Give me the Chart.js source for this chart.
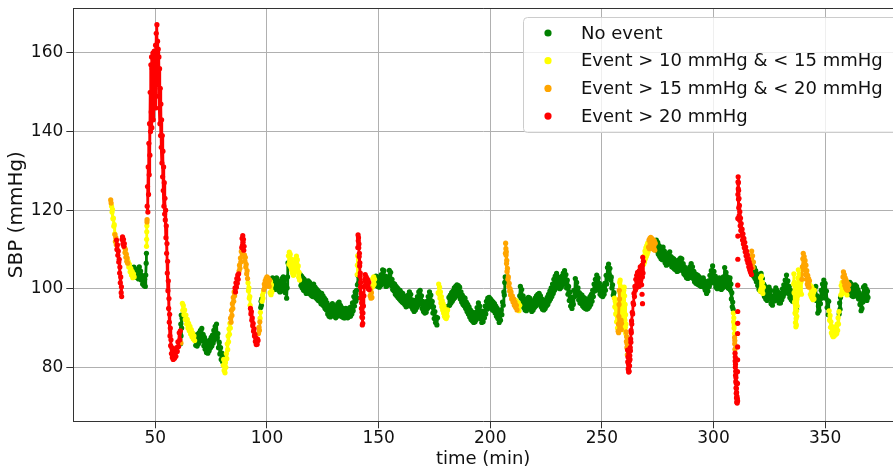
<!DOCTYPE html>
<html>
<head>
<meta charset="utf-8">
<script src="https://cdn.jsdelivr.net/npm/chart.js@4.4.0/dist/chart.umd.min.js"></script>
<style>
  html, body { margin: 0; padding: 0; background: #ffffff; overflow: hidden; }
  canvas { display: block; }
</style>
</head>
<body>
<canvas id="sbp" width="893" height="471"></canvas>
<script>
// Systolic blood pressure over the session, split by event class.
// Each class is a list of contiguous runs of [time (min), SBP (mmHg)] samples.

const seriesLabels = ['No event', 'Event > 10 mmHg & < 15 mmHg', 'Event > 15 mmHg & < 20 mmHg', 'Event > 20 mmHg'];
const xTicks = [50, 100, 150, 200, 250, 300, 350];
const yTicks = [80, 100, 120, 140, 160];

const noEvent = [
  [[40.4,105.5],[40.7,103.4],[41.0,105.0],[41.3,103.0],[41.6,104.6],[41.9,102.8],[42.2,104.2],[42.5,102.5],[42.8,105.6],[43.1,103.2],[43.4,104.5],[43.7,102.2],[44.0,103.4],[44.3,101.2],[44.6,102.8],[44.9,100.8],[45.2,102.4],[45.5,100.6],[45.7,103.5],[45.9,106.5],[46.0,109.0]],
  [[61.3,86.0],[61.4,91.0],[61.5,88.0],[61.6,93.3],[61.8,90.0],[62.0,92.5]],
  [[67.8,88.2],[68.1,85.6],[68.4,87.9],[68.7,85.4],[69.0,88.4],[69.3,86.0],[69.6,88.8],[69.9,86.6],[70.2,89.4],[70.5,87.2],[70.8,89.9],[71.1,86.8],[71.4,88.4],[71.7,85.5],[72.0,87.6],[72.3,84.6],[72.6,86.8],[72.9,83.8],[73.2,86.2],[73.5,83.6],[73.8,86.0],[74.1,84.2],[74.4,86.9],[74.7,85.0],[75.0,87.6],[75.3,85.4],[75.6,88.2],[75.9,86.2],[76.2,89.4],[76.5,87.0],[76.8,90.4],[77.1,88.0],[77.4,91.0],[77.7,87.6],[78.0,88.6],[78.3,85.0],[78.6,86.4],[78.9,83.4],[79.2,85.0],[79.5,82.0],[79.8,83.6],[80.1,81.4],[80.3,82.6]],
  [[97.2,95.2],[97.35,96.8],[97.5,95.8],[97.65,97.4]],
  [[102.5,102.8],[102.8,100.2],[103.1,102.6],[103.4,99.8],[103.7,102.2],[104.0,100.0],[104.3,102.8],[104.6,100.4],[104.9,102.0],[105.2,99.6],[105.5,101.6],[105.8,99.2],[106.1,101.4],[106.4,99.4],[106.7,102.6],[107.0,100.0],[107.3,103.0],[107.6,100.6],[107.9,102.2],[108.2,99.0],[108.5,101.0],[108.8,97.6],[109.0,100.2],[109.2,103.0],[109.4,106.6]],
  [[114.9,103.6],[115.2,100.8],[115.5,103.2],[115.8,100.2],[116.1,102.8],[116.4,99.6],[116.7,102.4],[117.0,99.4],[117.3,101.8],[117.6,98.8],[117.9,101.2],[118.2,99.0],[118.5,102.0],[118.8,99.4],[119.1,101.6],[119.4,98.6],[119.7,100.8],[120.0,98.2],[120.3,100.6],[120.6,98.0],[120.9,101.2],[121.2,98.6],[121.5,100.4],[121.8,97.8],[122.1,100.0],[122.4,97.4],[122.7,99.6],[123.0,97.0],[123.3,99.2],[123.6,96.8],[123.9,98.6],[124.2,96.2],[124.5,98.8],[124.8,96.0],[125.1,98.2],[125.4,95.6],[125.7,97.6],[126.0,95.0],[126.3,97.2],[126.6,94.6],[126.9,96.4],[127.2,93.6],[127.5,95.8],[127.8,93.0],[128.1,95.4],[128.4,92.8],[128.7,95.6],[129.0,93.2],[129.3,96.2],[129.6,93.4],[129.9,95.8],[130.2,93.0],[130.5,95.2],[130.8,92.6],[131.1,95.0],[131.4,93.0],[131.7,96.2],[132.0,93.6],[132.3,96.6],[132.6,93.4],[132.9,95.8],[133.2,93.0],[133.5,95.2],[133.8,92.8],[134.1,94.6],[134.4,92.6],[134.7,94.8],[135.0,92.6],[135.3,95.0],[135.6,92.8],[135.9,94.6],[136.2,92.6],[136.5,94.8],[136.8,93.0],[137.1,95.2],[137.4,93.0],[137.7,95.4],[138.0,93.6],[138.3,96.4],[138.6,94.4],[138.9,98.0],[139.2,95.6],[139.5,99.2],[139.8,96.8],[140.1,99.6],[140.3,97.6]],
  [[140.5,101.0],[140.7,103.4],[140.9,101.4]],
  [[148.5,101.2],[148.8,103.2],[149.1,100.8],[149.4,103.0],[149.7,100.6],[150.0,102.6],[150.3,100.4],[150.6,102.8],[150.9,100.8],[151.2,103.6],[151.5,101.2],[151.8,104.8],[152.1,102.0],[152.4,104.6],[152.7,101.4],[153.0,103.2],[153.3,100.6],[153.6,102.6],[153.9,100.8],[154.2,103.0],[154.5,101.6],[154.8,104.7],[155.1,102.2],[155.4,104.2],[155.7,100.8],[156.0,102.4],[156.3,99.8],[156.6,101.4],[156.9,99.4],[157.2,101.2],[157.5,98.6],[157.8,100.6],[158.1,98.2],[158.4,100.2],[158.7,97.8],[159.0,99.8],[159.3,97.4],[159.6,99.6],[159.9,97.0],[160.2,99.0],[160.5,96.6],[160.8,98.8],[161.1,96.4],[161.4,98.2],[161.7,96.0],[162.0,97.8],[162.3,95.4],[162.6,97.6],[162.9,95.6],[163.2,98.4],[163.5,96.4],[163.8,99.2],[164.1,96.8],[164.4,98.6],[164.7,95.4],[165.0,97.2],[165.3,94.8],[165.6,96.6],[165.9,94.2],[166.2,96.4],[166.5,94.6],[166.8,97.2],[167.1,95.2],[167.4,98.0],[167.7,95.8],[168.0,99.2],[168.3,96.6],[168.6,99.6],[168.9,96.2],[169.2,98.2],[169.5,95.0],[169.8,96.8],[170.1,94.2],[170.4,96.2],[170.7,93.8],[171.0,95.6],[171.3,94.0],[171.6,96.8],[171.9,95.0],[172.2,98.0],[172.5,96.0],[172.8,99.2],[173.1,96.6],[173.4,98.4],[173.7,95.4],[174.0,96.8],[174.3,93.8],[174.6,95.4],[174.9,92.4],[175.2,94.2],[175.5,91.4],[175.8,92.8],[176.1,90.8],[176.4,92.6]],
  [[181.2,95.6],[181.5,97.8],[181.8,95.8],[182.1,98.4],[182.4,96.4],[182.7,99.0],[183.0,96.8],[183.3,99.4],[183.6,97.4],[183.9,100.2],[184.2,97.8],[184.5,100.6],[184.8,98.2],[185.1,101.0],[185.4,98.4],[185.7,100.8],[186.0,98.2],[186.3,100.4],[186.6,97.4],[186.9,99.2],[187.2,96.6],[187.5,98.4],[187.8,96.0],[188.1,97.8],[188.4,95.6],[188.7,97.6],[189.0,95.0],[189.3,96.6],[189.6,94.2],[189.9,96.0],[190.2,93.6],[190.5,95.4],[190.8,92.8],[191.1,94.6],[191.4,92.2],[191.7,94.2],[192.0,91.8],[192.3,93.8],[192.6,91.4],[192.9,93.4],[193.2,91.6],[193.5,94.0],[193.8,92.2],[194.1,95.2],[194.4,93.0],[194.7,96.4],[195.0,93.6],[195.3,95.6],[195.6,92.4],[195.9,94.4],[196.2,91.4],[196.5,93.2],[196.8,91.6],[197.1,94.2],[197.4,92.6],[197.7,95.6],[198.0,93.6],[198.3,96.8],[198.6,94.8],[198.9,97.6],[199.2,95.4],[199.5,97.8],[199.8,95.6],[200.1,97.4],[200.4,95.0],[200.7,97.0],[201.0,94.6],[201.3,96.6],[201.6,94.4],[201.9,96.2],[202.2,93.8],[202.5,95.6],[202.8,93.0],[203.1,95.0],[203.4,92.4],[203.7,94.2],[204.0,91.4],[204.3,93.6],[204.6,92.0],[204.9,94.6],[205.2,93.4],[205.5,96.6],[205.8,95.8],[206.1,99.2],[206.3,98.4],[206.5,101.6],[206.7,103.0]],
  [[213.2,98.2],[213.5,100.6],[213.8,97.6],[214.1,99.8],[214.4,96.6],[214.7,98.2],[215.0,95.2],[215.3,97.4],[215.6,94.6],[215.9,96.8],[216.2,94.4],[216.5,97.2],[216.8,95.0],[217.1,97.8],[217.4,95.4],[217.7,97.6],[218.0,94.8],[218.3,96.6],[218.6,94.2],[218.9,96.4],[219.2,94.6],[219.5,97.0],[219.8,95.2],[220.1,97.6],[220.4,95.6],[220.7,98.2],[221.0,96.0],[221.3,98.6],[221.6,96.4],[221.9,98.8],[222.2,96.2],[222.5,98.2],[222.8,95.4],[223.1,97.4],[223.4,94.8],[223.7,96.8],[224.0,94.6],[224.3,96.6],[224.6,95.0],[224.9,97.2],[225.2,95.6],[225.5,97.8],[225.8,96.0],[226.1,98.6],[226.4,96.8],[226.7,99.4],[227.0,97.4],[227.3,100.2],[227.6,98.0],[227.9,101.2],[228.2,98.8],[228.5,102.4],[228.8,99.6],[229.1,103.2],[229.4,100.6],[229.7,103.9],[230.0,100.8],[230.3,103.0],[230.6,100.2],[230.9,102.4],[231.2,100.0],[231.5,102.6],[231.8,100.4],[232.1,103.2],[232.4,101.0],[232.7,104.0],[233.0,101.4],[233.3,104.6],[233.6,101.2],[233.9,103.6],[234.2,100.2],[234.5,102.2],[234.8,98.6],[235.1,100.6],[235.4,97.0],[235.7,99.2],[236.0,95.6],[236.3,97.8],[236.6,95.0],[236.9,97.6],[237.2,96.0],[237.5,99.6],[237.8,98.0],[238.1,102.6],[238.4,99.6],[238.7,101.6],[239.0,98.4],[239.3,100.2],[239.6,97.2],[239.9,99.0],[240.2,96.4],[240.5,98.6],[240.8,96.2],[241.1,98.4],[241.4,95.6],[241.7,97.8],[242.0,95.2],[242.3,97.6],[242.6,95.0],[242.9,97.2],[243.2,94.8],[243.5,96.8],[243.8,95.0],[244.1,97.4],[244.4,95.4],[244.7,98.0],[245.0,96.0],[245.3,98.6],[245.6,96.8],[245.9,99.6],[246.2,98.0],[246.5,101.2],[246.8,99.4],[247.1,102.4],[247.4,100.2],[247.7,103.5],[248.0,100.6],[248.3,102.8],[248.6,99.6],[248.9,101.4],[249.2,98.6],[249.5,100.4],[249.8,98.2],[250.1,100.2],[250.4,98.0],[250.7,100.6],[251.0,98.6],[251.3,101.4],[251.6,99.6],[251.9,103.4],[252.2,101.2],[252.5,105.4],[252.8,103.0],[253.0,106.3],[253.3,103.6],[253.6,105.2],[253.9,102.2],[254.2,103.0],[254.5,100.2],[254.8,101.0],[255.1,98.4],[255.4,99.0]],
  [[274.1,110.4],[274.4,112.4],[274.7,109.6],[275.0,111.8],[275.3,108.8],[275.6,111.0],[275.9,108.2],[276.2,110.6],[276.5,107.6],[276.8,109.8],[277.1,107.4],[277.4,110.6],[277.7,107.8],[278.0,109.6],[278.3,106.6],[278.6,108.6],[278.9,106.0],[279.2,108.4],[279.5,106.2],[279.8,109.0],[280.1,106.8],[280.4,109.4],[280.7,106.4],[281.0,108.2],[281.3,105.6],[281.6,107.8],[281.9,105.4],[282.2,107.6],[282.5,105.0],[282.8,107.2],[283.1,104.8],[283.4,106.8],[283.7,104.4],[284.0,106.6],[284.3,104.6],[284.6,107.4],[284.9,105.2],[285.2,107.8],[285.5,105.0],[285.8,107.6],[286.1,104.6],[286.4,106.4],[286.7,103.8],[287.0,105.6],[287.3,103.4],[287.6,105.2],[287.9,102.8],[288.2,104.8],[288.5,102.6],[288.8,104.6],[289.1,102.8],[289.4,105.6],[289.7,103.4],[290.0,106.4],[290.3,103.6],[290.6,105.6],[290.9,102.6],[291.2,104.4],[291.5,101.8],[291.8,103.8],[292.1,101.4],[292.4,103.6],[292.7,101.2],[293.0,103.4],[293.3,101.0],[293.6,103.0],[293.9,100.8],[294.2,102.6],[294.5,100.6],[294.8,102.4],[295.1,100.8],[295.4,102.8],[295.7,100.4],[296.0,102.0],[296.3,99.6],[296.6,101.4],[296.9,98.8],[297.2,100.6],[297.5,99.4],[297.8,102.0],[298.1,100.6],[298.4,103.4],[298.7,101.4],[299.0,104.6],[299.3,102.0],[299.6,105.8],[299.9,102.6],[300.2,104.4],[300.5,101.4],[300.8,103.2],[301.1,100.4],[301.4,102.6],[301.7,100.0],[302.0,102.4],[302.3,100.2],[302.6,102.8],[302.9,100.4],[303.2,102.4],[303.5,99.8],[303.8,102.0],[304.1,100.2],[304.4,103.0],[304.7,101.0],[305.0,105.4],[305.3,102.0],[305.6,104.2],[305.9,100.6],[306.2,103.0],[306.5,100.2],[306.8,102.6],[307.1,100.0],[307.4,102.8],[307.6,99.6],[307.8,101.2],[308.0,97.4],[308.2,99.0],[308.4,95.4],[308.6,96.6],[308.8,94.8]],
  [[318.0,103.2],[318.3,105.4],[318.6,102.6],[318.9,104.6],[319.2,101.8],[319.5,103.8],[319.8,100.8],[320.1,102.8],[320.4,99.8],[320.7,101.8],[321.0,99.4],[321.3,103.9],[321.6,100.2],[321.9,102.6],[322.2,99.2],[322.5,101.2],[322.8,98.0],[323.1,100.6],[323.4,97.4],[323.7,99.8],[324.0,97.0],[324.3,99.6],[324.6,97.4],[324.9,100.4],[325.2,97.8],[325.5,99.6],[325.8,96.2],[326.1,98.0],[326.4,95.8],[326.7,98.2],[327.0,96.8],[327.3,99.4],[327.6,97.6],[327.9,100.2],[328.2,97.8],[328.5,99.6],[328.8,97.0],[329.1,99.0],[329.4,96.4],[329.7,98.4],[330.0,96.4],[330.3,98.8],[330.6,97.2],[330.9,100.0],[331.2,98.0],[331.5,101.0],[331.8,98.8],[332.1,102.2],[332.4,99.6],[332.7,103.5],[333.0,100.2],[333.3,102.0],[333.6,98.8],[333.9,100.6],[334.2,97.8],[334.5,99.6],[334.8,97.2],[335.1,99.2],[335.4,96.8],[335.7,98.6]],
  [[337.2,94.8]],
  [[345.5,98.4],[345.8,100.6],[346.1,97.0],[346.4,98.2],[346.7,93.8],[347.0,95.6],[347.3,94.4],[347.6,97.8],[347.9,96.2],[348.2,99.6],[348.5,97.6],[348.8,101.2],[349.1,98.6],[349.4,102.2],[349.7,99.0],[350.0,101.4],[350.3,97.6],[350.6,99.4],[350.9,95.2],[351.2,97.0],[351.4,93.4],[351.6,96.8]],
  [[356.3,93.6],[356.5,96.4],[356.7,94.8],[356.9,97.8]],
  [[360.8,99.0],[361.1,101.6],[361.4,98.6],[361.7,101.2],[362.0,98.2],[362.3,100.6],[362.6,98.0],[362.9,100.8],[363.2,98.4],[363.5,101.0],[363.8,98.6],[364.1,100.6],[364.4,98.0],[364.7,99.8],[365.0,97.4],[365.3,99.0],[365.6,96.0],[365.9,97.8],[366.1,94.4],[366.3,96.6],[366.5,95.0],[366.7,98.4],[366.9,96.6],[367.2,100.4],[367.5,97.4],[367.8,100.8],[368.1,97.2],[368.4,100.0],[368.7,97.0],[369.0,99.4],[369.2,97.8]]
];

const event10to15 = [
  [[30.4,121.0],[30.6,119.5],[30.8,120.2],[31.0,117.8],[31.2,118.0],[31.4,115.9],[31.6,116.3],[31.8,114.0]],
  [[37.8,107.0],[38.1,105.5],[38.4,106.2],[38.7,104.3],[39.0,105.2],[39.3,103.5],[39.6,104.4],[39.9,102.8],[40.2,103.8],[40.5,103.0]],
  [[46.05,110.8],[46.1,112.6],[46.15,114.5],[46.2,116.0]],
  [[62.1,96.3],[62.3,94.5],[62.5,95.8],[62.8,93.4],[63.1,94.6],[63.4,92.2],[63.7,93.3],[64.0,91.0],[64.3,92.2],[64.6,90.0],[64.9,91.2],[65.2,89.3],[65.5,90.4],[65.8,88.5],[66.1,89.6],[66.4,87.8],[66.7,88.8],[67.0,87.2],[67.3,88.0],[67.6,86.8]],
  [[80.4,80.5],[80.6,82.0],[80.8,79.2],[81.0,80.8],[81.2,78.6],[81.4,81.2],[81.6,80.0],[81.8,83.5],[82.0,82.2],[82.2,86.0],[82.4,84.5],[82.6,88.0],[82.8,86.5],[83.0,89.8],[83.2,88.4],[83.4,91.2],[83.6,90.0]],
  [[91.5,101.5],[91.7,99.5],[91.9,100.2],[92.1,97.6],[92.3,98.0],[92.45,95.8]],
  [[96.9,92.5],[97.05,94.0]],
  [[97.8,96.8],[98.0,98.4],[98.2,97.6],[98.4,99.2]],
  [[101.4,99.0],[101.6,101.8],[101.8,98.5],[102.0,101.0],[102.2,99.2]],
  [[109.6,108.4],[109.8,106.2],[110.0,109.3],[110.2,106.8],[110.4,108.8],[110.6,105.6],[110.8,107.6],[111.0,104.8],[111.2,106.8],[111.4,104.0],[111.6,106.2],[111.8,103.4],[112.0,105.4],[112.2,103.6],[112.4,106.4],[112.6,104.6],[112.8,107.6],[113.0,105.2],[113.2,108.3],[113.4,105.6],[113.6,107.4],[113.8,104.4],[114.0,105.8],[114.2,102.9],[114.4,104.2],[114.6,102.2]],
  [[140.4,103.6],[140.5,106.0],[140.6,108.4]],
  [[147.2,100.4],[147.4,102.6],[147.6,100.8],[147.8,103.0],[148.0,101.2],[148.2,102.4]],
  [[176.7,99.0],[176.9,101.2],[177.1,98.6],[177.3,100.4],[177.5,97.6],[177.7,99.2],[177.9,96.4],[178.1,98.0],[178.3,95.4],[178.5,97.0],[178.7,94.6],[178.9,96.2],[179.1,93.8],[179.3,95.6],[179.5,93.0],[179.7,94.8],[179.9,92.6],[180.1,94.2],[180.3,92.4],[180.5,93.8],[180.7,93.0],[180.9,94.6]],
  [[211.6,97.0],[212.0,96.2],[212.3,95.0],[212.6,96.4],[212.9,94.4],[213.2,95.8]],
  [[255.6,97.6],[255.8,95.4],[256.0,96.8],[256.2,93.6],[256.4,95.0],[256.6,91.6],[256.8,93.2],[257.0,90.0],[257.2,91.6]],
  [[258.0,101.6],[258.1,99.0],[258.2,102.2],[258.3,98.2],[258.4,100.6],[258.5,96.4],[258.6,99.4],[258.7,94.8],[258.8,97.6],[258.9,92.8],[259.0,95.8],[259.1,91.2],[259.2,94.0],[259.3,89.6],[259.4,92.4],[259.5,90.4],[259.6,97.0],[259.7,93.2],[259.8,99.6],[259.9,95.2],[260.0,100.4],[260.1,94.6],[260.2,98.2],[260.3,92.0],[260.4,96.0],[260.5,90.2],[260.6,93.4],[260.7,88.6],[260.8,91.0]],
  [[268.7,106.2],[268.9,108.4],[269.1,106.8],[269.3,109.6],[269.5,107.6],[269.7,110.4],[269.9,108.2],[270.1,111.0],[270.3,108.8],[270.5,111.6],[270.7,109.4]],
  [[308.9,93.8],[309.0,91.6],[309.1,92.6],[309.2,90.0],[309.3,90.8],[309.4,88.6]],
  [[320.9,99.4],[321.1,102.8],[321.3,100.0],[321.5,103.2],[321.7,99.6],[321.9,101.6],[322.1,98.8],[322.3,100.4]],
  [[335.9,101.2],[336.0,103.8],[336.1,99.0],[336.2,101.6],[336.3,96.6],[336.4,98.8],[336.5,93.8],[336.6,96.2],[336.7,91.4],[336.8,93.6],[336.9,90.3],[337.0,92.4],[337.1,90.8],[337.2,94.4],[337.3,93.0],[337.4,97.4],[337.5,95.6],[337.6,100.6],[337.7,98.2],[337.8,102.8],[337.9,99.8],[338.0,104.8],[338.2,101.4],[338.4,103.8],[338.6,100.2],[338.8,102.6],[339.0,99.0],[339.2,101.8],[339.4,98.6]],
  [[343.2,101.0],[343.4,98.6],[343.6,100.6],[343.8,98.0],[344.0,100.4],[344.2,97.6],[344.4,99.8],[344.6,97.2],[344.8,99.2],[345.0,97.4],[345.2,99.6]],
  [[351.8,94.4],[352.0,92.0],[352.2,93.2],[352.4,90.2],[352.6,91.6],[352.8,88.8],[353.0,90.4],[353.2,88.2],[353.4,89.8],[353.6,87.8],[353.8,89.4],[354.0,88.0],[354.2,89.8],[354.4,88.2],[354.6,90.0],[354.8,88.4],[355.0,90.4],[355.2,88.6],[355.4,91.0],[355.6,89.4],[355.8,92.6],[356.0,91.0],[356.2,94.2]],
  [[357.0,98.4],[357.2,100.8],[357.4,98.6],[357.6,101.6],[357.8,99.4]],
  [[359.2,99.0],[359.5,100.2],[359.8,98.4]]
];

const event15to20 = [
  [[30.0,122.6],[30.2,121.8]],
  [[31.9,113.8],[32.1,112.0],[32.3,113.0],[32.5,111.2]],
  [[36.2,110.5],[36.4,109.2],[36.6,110.0],[36.8,108.0],[37.0,108.8],[37.2,107.0],[37.4,107.8],[37.6,106.5]],
  [[46.25,117.0],[46.3,117.6]],
  [[61.45,86.2]],
  [[83.7,92.5],[83.9,91.5],[84.1,94.5],[84.3,93.2],[84.5,96.2],[84.7,95.0],[84.9,97.8],[85.1,96.8],[85.3,99.2],[85.5,98.2]],
  [[87.5,104.5],[87.7,106.0],[87.9,105.2],[88.1,107.8],[88.3,106.8],[88.5,109.5]],
  [[89.9,108.6],[90.1,107.0],[90.3,108.0],[90.5,105.5],[90.7,106.2],[90.9,103.8],[91.1,104.6],[91.3,102.6]],
  [[96.2,88.6],[96.4,90.2],[96.6,89.4],[96.8,91.6]],
  [[98.6,99.8],[98.8,101.2],[99.0,100.4],[99.2,102.0],[99.4,100.8],[99.6,102.6],[99.8,101.2],[100.0,103.0],[100.2,101.4],[100.4,102.8],[100.6,101.0],[100.8,102.4],[101.0,100.6],[101.2,102.2]],
  [[146.0,100.2],[146.2,98.2],[146.4,99.6],[146.6,97.6],[146.8,99.0],[147.0,97.8]],
  [[206.8,109.0],[206.9,111.6],[207.0,110.2],[207.1,108.6],[207.2,109.4],[207.3,106.4],[207.4,107.2],[207.5,104.4],[207.7,105.2],[207.9,102.4],[208.1,103.0],[208.3,100.6],[208.5,101.4],[208.7,99.4],[208.9,100.0],[209.1,98.4],[209.3,99.2],[209.6,97.4],[209.9,98.2],[210.2,96.6],[210.5,97.4],[210.8,95.8],[211.1,96.6],[211.4,95.2],[211.7,95.8],[212.0,94.6]],
  [[257.3,89.2],[257.4,91.0],[257.5,88.8],[257.6,93.0],[257.7,96.0],[257.8,99.6],[257.9,97.4]],
  [[258.6,92.0],[258.7,89.6],[258.8,91.2]],
  [[260.9,89.0],[261.0,86.6],[261.1,87.8],[261.2,85.0],[261.3,86.0],[261.4,83.2]],
  [[270.9,110.6],[271.1,112.4],[271.3,110.2],[271.5,112.8],[271.7,110.6],[271.9,113.1],[272.1,111.0],[272.3,112.8],[272.5,110.4],[272.7,112.6],[272.9,110.2],[273.1,112.4],[273.3,110.0],[273.5,112.2],[273.7,109.8],[273.9,111.6]],
  [[309.45,87.6],[309.5,86.0],[309.55,86.8],[309.6,84.6]],
  [[316.9,107.0],[317.1,109.6],[317.3,106.6],[317.5,108.4],[317.7,105.4],[317.9,106.8]],
  [[339.6,102.4],[339.8,105.6],[340.0,107.6],[340.2,109.0],[340.4,106.0],[340.6,108.2],[340.8,104.8],[341.0,107.2],[341.2,103.6],[341.4,106.0],[341.6,102.4],[341.8,104.6],[342.0,101.2],[342.2,103.4],[342.4,100.6],[342.6,102.6],[342.8,100.4],[343.0,102.0]],
  [[358.0,103.0],[358.2,104.3],[358.4,101.8],[358.6,103.6],[358.8,100.8],[359.0,102.8],[359.2,100.2],[359.4,102.2],[359.6,99.8],[359.8,101.6],[360.0,99.6],[360.2,101.2],[360.4,99.8],[360.6,101.0]]
];

const eventOver20 = [
  [[32.6,112.4],[32.8,110.0],[33.0,111.2],[33.2,108.5],[33.4,109.6],[33.6,106.8],[33.8,107.5],[34.0,104.0],[34.1,105.5],[34.3,101.5],[34.5,103.0],[34.7,99.0],[34.8,100.5],[34.9,98.0]],
  [[35.1,112.5],[35.3,113.2],[35.5,111.4],[35.7,112.6],[35.9,110.8],[36.1,111.5]],
  [[46.35,121.0],[46.5,126.0],[46.65,119.5],[46.8,131.0],[46.95,124.0],[47.1,137.0],[47.25,129.0],[47.4,142.0],[47.55,134.0],[47.7,150.0],[47.85,140.0],[48.0,157.0],[48.15,145.0],[48.3,159.0],[48.45,141.0],[48.6,156.0],[48.75,146.0],[48.9,160.0],[49.05,143.0],[49.2,158.0],[49.35,148.0],[49.5,160.5],[49.65,150.0],[49.8,159.0],[49.95,146.0],[50.1,162.0],[50.25,152.0],[50.4,165.0],[50.55,155.0],[50.7,167.2],[50.85,157.0],[51.0,163.0],[51.15,152.0],[51.3,161.0],[51.45,149.0],[51.6,159.0],[51.75,146.0],[51.9,156.0],[52.05,142.0],[52.2,151.0],[52.35,139.0],[52.5,147.0],[52.65,136.0],[52.8,143.0],[52.95,132.0],[53.1,139.0],[53.25,128.5],[53.4,135.0],[53.55,125.0],[53.7,131.0],[53.85,121.0],[54.0,127.0],[54.15,119.0],[54.3,123.0],[54.45,117.5],[54.6,120.0],[54.75,113.0],[54.9,116.0],[55.05,109.0],[55.2,111.5],[55.35,104.0],[55.5,107.0],[55.65,99.5],[55.8,102.0],[55.95,95.0],[56.1,97.5],[56.25,91.5],[56.4,93.5],[56.55,88.0],[56.7,90.0],[56.85,85.5],[57.0,87.0],[57.2,83.5],[57.4,85.0],[57.6,82.5],[57.8,84.0],[58.0,82.0],[58.3,83.8],[58.6,82.3],[58.9,84.2],[59.2,82.8],[59.5,85.0],[59.8,84.0],[60.1,86.5],[60.4,85.3],[60.7,88.8],[61.0,87.0],[61.2,89.3]],
  [[85.7,100.2],[85.9,99.2],[86.1,101.5],[86.3,100.4],[86.5,102.6],[86.7,101.4],[86.9,103.5],[87.1,102.4],[87.3,103.8]],
  [[88.7,110.5],[88.85,112.8],[89.0,111.0],[89.15,113.5],[89.3,111.8],[89.45,112.6],[89.6,109.8],[89.75,110.8]],
  [[92.6,95.0],[92.8,93.6],[93.0,94.2],[93.2,92.0],[93.4,92.6],[93.6,90.6],[93.8,91.2],[94.0,89.2],[94.2,89.8],[94.4,88.0],[94.6,88.4],[94.8,86.6],[95.0,87.5],[95.2,85.8],[95.4,86.6],[95.6,85.9],[95.8,87.2],[96.0,86.8]],
  [[140.7,110.5],[140.8,113.7],[140.9,112.2],[141.0,113.0],[141.1,110.4],[141.2,111.4],[141.3,108.2],[141.4,109.0],[141.5,105.8],[141.6,106.6],[141.7,103.2],[141.8,104.0],[141.9,100.4],[142.0,101.6],[142.1,97.6],[142.2,98.8],[142.3,95.0],[142.4,96.4],[142.5,92.8],[142.6,94.0],[142.7,90.8],[142.8,92.6],[142.9,91.2],[143.0,93.8],[143.2,95.6],[143.4,98.2],[143.6,100.6],[143.8,102.4],[144.0,103.6],[144.2,101.8],[144.4,103.0],[144.6,101.0],[144.8,102.6],[145.0,100.6],[145.2,102.2],[145.4,100.0],[145.6,101.6],[145.8,99.8]],
  [[261.5,84.4],[261.6,81.4],[261.7,82.6],[261.8,79.6],[261.9,81.0],[262.0,78.8],[262.1,80.4],[262.2,79.0],[262.3,81.6],[262.4,80.4],[262.5,83.0],[262.6,82.0],[262.7,85.0],[262.8,84.2],[262.9,87.2],[263.0,86.4],[263.1,89.4],[263.2,88.8],[263.3,91.8],[263.4,91.0],[263.6,94.0],[263.8,93.6],[264.0,96.4],[264.2,96.0],[264.4,98.8],[264.6,98.0],[264.8,100.6],[265.0,99.6],[265.2,102.4],[265.4,100.6],[265.6,103.4],[265.8,100.4],[266.0,104.2],[266.2,101.2],[266.4,103.8],[266.6,100.6],[266.8,104.6],[267.0,101.4],[267.2,105.6],[267.4,102.2],[267.6,104.8],[267.8,101.0],[268.0,106.0],[268.15,103.0],[268.3,108.0],[268.45,104.0],[268.6,107.0]],
  [[268.0,98.6]],
  [[268.2,96.2]],
  [[309.65,83.6],[309.7,81.6],[309.75,82.6],[309.8,80.0],[309.85,80.8],[309.9,78.0],[309.95,79.0],[310.0,76.4],[310.05,77.4],[310.1,74.8],[310.15,76.0],[310.2,73.4],[310.25,74.6],[310.3,72.2],[310.35,73.6],[310.4,71.2],[310.5,72.6],[310.6,70.9],[310.7,72.0],[310.8,71.4]],
  [[310.75,75.9]],
  [[310.75,78.9]],
  [[310.8,81.9]],
  [[310.8,85.2]],
  [[310.8,88.6]],
  [[310.85,91.2]],
  [[310.85,94.2]],
  [[310.85,100.9]],
  [[310.9,107.5]],
  [[310.9,113.4]],
  [[310.9,117.9]],
  [[310.95,124.0],[311.0,127.2],[311.05,128.5],[311.1,125.4],[311.15,127.0],[311.2,122.8],[311.25,125.0],[311.3,120.6],[311.4,123.0],[311.5,118.6],[311.6,121.2],[311.7,117.4],[311.8,119.6],[311.95,116.0],[312.1,118.0],[312.25,114.8],[312.4,116.6],[312.6,113.6],[312.8,115.2],[313.0,112.4],[313.2,114.0],[313.4,111.4],[313.6,112.8],[313.8,110.4],[314.0,111.8],[314.2,109.4],[314.4,110.6],[314.6,108.4],[314.8,109.6],[315.0,107.4],[315.2,108.6],[315.4,106.6],[315.6,107.6],[315.8,105.6],[316.0,106.8],[316.2,104.8],[316.4,106.0],[316.6,104.2],[316.8,105.2],[317.0,103.6]]
];

// Runs are joined into one dataset per class; a null sample ends a run so it is not bridged.
function toPoints(runs) {
  const pts = [];
  runs.forEach((run, i) => {
    if (i > 0) pts.push({ x: run[0][0], y: null });
    run.forEach(([t, v]) => pts.push({ x: t, y: v }));
  });
  return pts;
}

function classDataset(label, runs, color, order) {
  return {
    label,
    data: toPoints(runs),
    showLine: true,
    spanGaps: false,
    borderColor: color,
    backgroundColor: color,
    borderWidth: 2.8,
    borderJoinStyle: 'round',
    borderCapStyle: 'round',
    pointRadius: 2.6,
    pointHoverRadius: 2.6,
    pointBorderWidth: 0,
    order
  };
}

const FONT = 'DejaVu Sans';

// Outline along the top of the plot area.
const topSpine = {
  id: 'topSpine',
  afterDraw(chart) {
    const { ctx, chartArea } = chart;
    ctx.save();
    ctx.strokeStyle = '#333333';
    ctx.lineWidth = 1;
    ctx.beginPath();
    ctx.moveTo(chartArea.left, chartArea.top + 0.5);
    ctx.lineTo(chartArea.right, chartArea.top + 0.5);
    ctx.stroke();
    ctx.restore();
  }
};

// Framed legend in the upper right of the plot area.
const framedLegend = {
  id: 'framedLegend',
  afterDraw(chart) {
    const { ctx } = chart;
    ctx.save();
    ctx.beginPath();
    ctx.roundRect(523.5, 17.5, 420, 115, 4);
    ctx.fillStyle = 'rgba(255,255,255,0.8)';
    ctx.fill();
    ctx.strokeStyle = '#cccccc';
    ctx.lineWidth = 1;
    ctx.stroke();
    ctx.font = '18px "' + FONT + '"';
    ctx.textBaseline = 'middle';
    ctx.textAlign = 'left';
    chart.data.datasets.forEach((ds, i) => {
      const y = 33 + i * 27.7;
      ctx.fillStyle = ds.backgroundColor;
      ctx.beginPath();
      ctx.arc(548, y, 3.6, 0, Math.PI * 2);
      ctx.fill();
      ctx.fillStyle = '#111111';
      ctx.fillText(ds.label, 581, y + 1);
    });
    ctx.restore();
  }
};

new Chart(document.getElementById('sbp'), {
  type: 'scatter',
  data: {
    datasets: [
      classDataset(seriesLabels[0], noEvent, '#008000', 4),
      classDataset(seriesLabels[1], event10to15, '#ffff00', 3),
      classDataset(seriesLabels[2], event15to20, '#ffa500', 2),
      classDataset(seriesLabels[3], eventOver20, '#ff0000', 1)
    ]
  },
  options: {
    responsive: false,
    animation: false,
    devicePixelRatio: 1,
    layout: { autoPadding: false, padding: { top: 8, left: 0, right: 0, bottom: 0 } },
    plugins: {
      legend: { display: false },
      tooltip: { enabled: false }
    },
    scales: {
      x: {
        type: 'linear',
        min: 13.25,
        max: 380.4,
        afterBuildTicks: (scale) => { scale.ticks = xTicks.map(v => ({ value: v })); },
        afterFit: (scale) => { scale.height = 49.7; scale.paddingLeft = 0; scale.paddingRight = 0; },
        grid: { color: '#b0b0b0', lineWidth: 1, tickLength: 7, tickColor: '#333333', tickWidth: 1 },
        border: { color: '#333333', width: 1 },
        ticks: { font: { family: FONT, size: 17 }, color: '#111111', padding: 0, maxRotation: 0, autoSkip: false },
        title: { display: true, text: 'time (min)', font: { family: FONT, size: 18 }, color: '#111111', padding: { top: 0, bottom: 1 } }
      },
      y: {
        type: 'linear',
        min: 66.26,
        max: 171.45,
        afterBuildTicks: (scale) => { scale.ticks = yTicks.map(v => ({ value: v })); },
        afterFit: (scale) => { scale.width = 73.3; scale.paddingTop = 0; scale.paddingBottom = 0; },
        grid: { color: '#b0b0b0', lineWidth: 1, tickLength: 7, tickColor: '#333333', tickWidth: 1 },
        border: { color: '#333333', width: 1 },
        ticks: { font: { family: FONT, size: 17 }, color: '#111111', padding: 3 },
        title: { display: true, text: 'SBP (mmHg)', font: { family: FONT, size: 20 }, color: '#111111', padding: { top: 5, bottom: 0 } }
      }
    }
  },
  plugins: [topSpine, framedLegend]
});
</script>
</body>
</html>
